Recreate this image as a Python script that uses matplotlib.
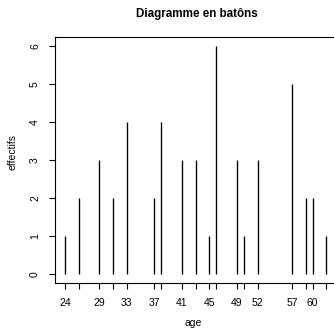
import matplotlib
matplotlib.use("Agg")
import matplotlib.pyplot as plt

plt.rcParams['font.family'] = ['Liberation Sans', 'DejaVu Sans']

# age values and their counts (table(age))
ages = [24, 26, 29, 31, 33, 37, 38, 41, 43, 45, 46, 49, 50, 52, 57, 59, 60, 62]
effectifs = [1, 2, 3, 2, 4, 2, 4, 3, 3, 1, 6, 3, 1, 3, 5, 2, 2, 1]
shown_labels = [24, 29, 33, 37, 41, 45, 49, 52, 57, 60]
y_ticks = [0, 1, 2, 3, 4, 5, 6]

W, H = 334, 329
fig = plt.figure(figsize=(W / 100, H / 100), dpi=100)
# plot region in pixels: x 54.5..336.8, y 36.9..283.4 (from top)
ax = fig.add_axes([54.5 / W, (H - 283.4) / H, (336.8 - 54.5) / W, (283.4 - 36.9) / H])

ax.vlines(ages, 0, effectifs, colors='black', linewidth=0.95)

pad_x = (max(ages) - min(ages)) * 0.04
ax.set_xlim(min(ages) - pad_x, max(ages) + pad_x)
ax.set_ylim(-0.24, 6.24)

ax.set_xticks(ages)
ax.set_xticklabels([str(a) if a in shown_labels else '' for a in ages])
ax.set_yticks(y_ticks)
ax.set_yticklabels([str(v) for v in y_ticks], rotation=90, va='center')

ax.tick_params(axis='both', direction='out', length=4.2, width=0.8,
               labelsize=7.5, color='black')
ax.tick_params(axis='x', pad=6.2)
ax.tick_params(axis='y', pad=6.2)
for s in ax.spines.values():
    s.set_linewidth(0.8)
    s.set_color('black')

fig.text(197 / W, 1 - 14 / H, 'Diagramme en batôns', ha='center', va='center',
         fontsize=8.4, fontweight='bold')
fig.text(193 / W, 1 - 323 / H, 'age', ha='center', va='center', fontsize=7.5)
fig.text(12 / W, 1 - 152 / H, 'effectifs', ha='center', va='center',
         fontsize=7.5, rotation=90)

fig.savefig('out.png', dpi=100)
